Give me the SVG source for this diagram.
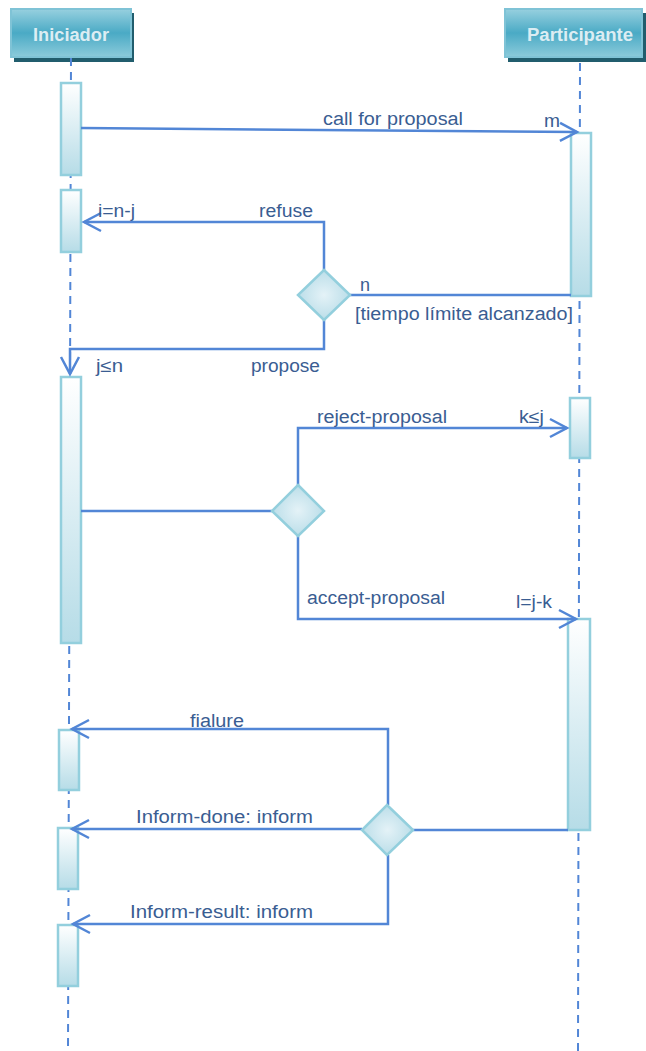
<svg xmlns="http://www.w3.org/2000/svg" width="646" height="1051" viewBox="0 0 646 1051">
  <defs>
    <linearGradient id="hdrFill" x1="0" y1="0" x2="0" y2="1">
      <stop offset="0" stop-color="#97d0df"/>
      <stop offset="0.5" stop-color="#4aaac5"/>
      <stop offset="1" stop-color="#8ccbdb"/>
    </linearGradient>
    <linearGradient id="barFill" x1="0" y1="0" x2="0" y2="1">
      <stop offset="0" stop-color="#ffffff"/>
      <stop offset="1" stop-color="#b6dce7"/>
    </linearGradient>
    <radialGradient id="diaFill" cx="0.5" cy="0.5" r="0.6">
      <stop offset="0" stop-color="#e4f2f7"/>
      <stop offset="1" stop-color="#b3dae6"/>
    </radialGradient>
    <marker id="open" markerUnits="userSpaceOnUse" markerWidth="24" markerHeight="24" viewBox="-20 -12 24 24" refX="0" refY="0" orient="auto" overflow="visible">
      <path d="M-17,-9 L0,0 L-17,9" fill="none" stroke="#5286d6" stroke-width="2.5"/>
    </marker>
  </defs>
  <style>
    .hdr { fill: url(#hdrFill); stroke: #7fc3d6; stroke-width: 2; }
    .shadow { fill: #215d6d; }
    .hdrtxt { font-family: "Liberation Sans", Arial, sans-serif; font-weight: bold; font-size: 18px; fill: #dcedf3; }
    .life { stroke: #5286d6; stroke-width: 2; stroke-dasharray: 8 6; fill: none; }
    .bar { fill: url(#barFill); stroke: #93cfdd; stroke-width: 2.5; }
    .dia { fill: url(#diaFill); stroke: #93cfdd; stroke-width: 2.5; }
    .msg { fill: none; stroke: #5286d6; stroke-width: 2.5; }
    .arr { marker-end: url(#open); }
    .lbl { font-family: "Liberation Sans", Arial, sans-serif; font-size: 18px; fill: #3a5d92; }
  </style>

  <!-- lifeline heads -->
  <g id="iniciador">
    <rect class="shadow" x="14" y="13" width="120" height="49"/>
    <rect class="hdr" x="11" y="9" width="120" height="48"/>
    <text class="hdrtxt" x="33" y="41" textLength="76" lengthAdjust="spacingAndGlyphs">Iniciador</text>
  </g>
  <g id="participante">
    <rect class="shadow" x="508" y="13" width="140" height="49"/>
    <rect class="hdr" x="505" y="9" width="137" height="48"/>
    <text class="hdrtxt" x="527" y="41" textLength="106" lengthAdjust="spacingAndGlyphs">Participante</text>
  </g>

  <!-- dashed lifelines -->
  <g id="lifelines">
    <line class="life" x1="71" y1="58" x2="68" y2="1051"/>
    <line class="life" x1="580" y1="63" x2="578" y2="1051"/>
  </g>

  <!-- activation bars -->
  <g id="act-iniciador">
    <rect class="bar" x="61" y="83" width="20" height="92"/>
    <rect class="bar" x="61" y="190" width="20" height="62"/>
    <rect class="bar" x="61" y="377" width="20" height="266"/>
    <rect class="bar" x="59" y="730" width="20" height="60"/>
    <rect class="bar" x="58" y="828" width="20" height="61"/>
    <rect class="bar" x="58" y="925" width="20" height="61"/>
  </g>
  <g id="act-participante">
    <rect class="bar" x="571" y="133" width="20" height="163"/>
    <rect class="bar" x="570" y="398" width="20" height="60"/>
    <rect class="bar" x="568" y="619" width="22" height="211"/>
  </g>

  <!-- messages -->
  <g id="connectors">
    <line class="msg arr" x1="81" y1="128" x2="577" y2="132"/>
    <polyline class="msg" points="571,295 350,295"/>
    <polyline class="msg arr" points="324,270 324,222 84,222"/>
    <polyline class="msg arr" points="324,320 324,349 70,349 70,374"/>
    <polyline class="msg" points="81,511 272,511"/>
    <polyline class="msg arr" points="298,485 298,428 567,428"/>
    <polyline class="msg arr" points="298,536 298,619 576,619"/>
    <polyline class="msg" points="568,830 413,830"/>
    <polyline class="msg arr" points="388,805 388,729 72,729"/>
    <polyline class="msg arr" points="362,829 72,829"/>
    <polyline class="msg arr" points="388,855 388,924 73,924"/>
  </g>

  <!-- decision points -->
  <g id="decision-1">
    <polygon class="dia" points="324,270 350,295 324,320 298,295"/>
  </g>
  <g id="decision-2">
    <polygon class="dia" points="298,485 324,511 298,536 272,511"/>
  </g>
  <g id="decision-3">
    <polygon class="dia" points="387,805 413,830 387,855 362,830"/>
  </g>

  <!-- message labels -->
  <g id="labels">
    <text class="lbl" x="323" y="125" textLength="140" lengthAdjust="spacingAndGlyphs">call for proposal</text>
    <text class="lbl" x="544" y="127" textLength="16" lengthAdjust="spacingAndGlyphs">m</text>
    <text class="lbl" x="259" y="217" textLength="54" lengthAdjust="spacingAndGlyphs">refuse</text>
    <text class="lbl" x="98" y="217" textLength="37" lengthAdjust="spacingAndGlyphs">i=n-j</text>
    <text class="lbl" x="360" y="291">n</text>
    <text class="lbl" x="355" y="320" textLength="218" lengthAdjust="spacingAndGlyphs">[tiempo límite alcanzado]</text>
    <text class="lbl" x="251" y="372" textLength="69" lengthAdjust="spacingAndGlyphs">propose</text>
    <text class="lbl" x="96" y="372" textLength="27" lengthAdjust="spacingAndGlyphs">j≤n</text>
    <text class="lbl" x="317" y="423" textLength="130" lengthAdjust="spacingAndGlyphs">reject-proposal</text>
    <text class="lbl" x="519" y="423" textLength="25" lengthAdjust="spacingAndGlyphs">k≤j</text>
    <text class="lbl" x="307" y="604" textLength="138" lengthAdjust="spacingAndGlyphs">accept-proposal</text>
    <text class="lbl" x="516" y="608" textLength="36" lengthAdjust="spacingAndGlyphs">l=j-k</text>
    <text class="lbl" x="190" y="727" textLength="54" lengthAdjust="spacingAndGlyphs">fialure</text>
    <text class="lbl" x="136" y="823" textLength="177" lengthAdjust="spacingAndGlyphs">Inform-done: inform</text>
    <text class="lbl" x="130" y="918" textLength="183" lengthAdjust="spacingAndGlyphs">Inform-result: inform</text>
  </g>
</svg>
